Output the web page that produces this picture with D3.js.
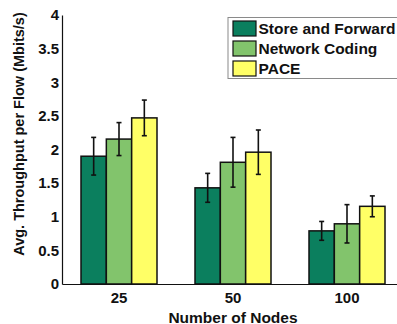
<!DOCTYPE html>
<html>
<head>
<meta charset="utf-8">
<script src="https://cdn.jsdelivr.net/npm/d3@7"></script>
<style>
  html, body { margin: 0; padding: 0; background: #fff; }
  svg { display: block; font-family: "Liberation Sans", Arial, sans-serif; font-weight: bold; }
</style>
</head>
<body>
<svg id="chart" width="397" height="324"></svg>
<script>
// Average per-flow throughput by network size, with standard deviation bars
const nodeCounts = ["25", "50", "100"];
const schemes = ["Store and Forward", "Network Coding", "PACE"];
const storeForwardMean = [1.90, 1.43, 0.79];
const storeForwardErr  = [0.28, 0.215, 0.14];
const networkCodingMean = [2.155, 1.81, 0.895];
const networkCodingErr  = [0.245, 0.37, 0.285];
const paceMean = [2.47, 1.96, 1.155];
const paceErr  = [0.265, 0.33, 0.155];
const yTicks = [0, 0.5, 1, 1.5, 2, 2.5, 3, 3.5, 4];
const yTickLabels = ["0", "0.5", "1", "1.5", "2", "2.5", "3", "3.5", "4"];
const colors = ["#0b7f5e", "#82c46c", "#ffff66"];

(function () {
  const means = [storeForwardMean, networkCodingMean, paceMean];
  const errs = [storeForwardErr, networkCodingErr, paceErr];

  const rows = [];
  nodeCounts.forEach((n, gi) => {
    schemes.forEach((s, si) => {
      rows.push({ group: n, scheme: s, si, value: means[si][gi], err: errs[si][gi] });
    });
  });

  const svg = d3.select("#chart");
  const plotLeft = 62, plotRight = 404, plotTop = 15, plotBottom = 284;
  const font = "Liberation Sans, Arial, sans-serif";

  const x = d3.scaleBand().domain(nodeCounts).range([plotLeft, plotRight])
    .paddingInner(1 / 3).paddingOuter(1 / 6);
  const xs = d3.scaleBand().domain(schemes).range([0, x.bandwidth()]).padding(0);
  const y = d3.scaleLinear().domain([0, 4]).range([plotBottom, plotTop]);

  // bars
  svg.append("g").selectAll("rect").data(rows).join("rect")
    .attr("x", d => x(d.group) + xs(d.scheme))
    .attr("y", d => y(d.value))
    .attr("width", xs.bandwidth())
    .attr("height", d => y(0) - y(d.value))
    .attr("fill", d => colors[d.si])
    .attr("stroke", "#111")
    .attr("stroke-width", 1.5);

  // error bars
  const eb = svg.append("g").attr("stroke", "#111").attr("stroke-width", 1.6);
  rows.forEach(d => {
    const cx = x(d.group) + xs(d.scheme) + xs.bandwidth() / 2;
    const y1 = y(d.value + d.err), y0 = y(d.value - d.err);
    eb.append("line").attr("x1", cx).attr("x2", cx).attr("y1", y1).attr("y2", y0);
    eb.append("line").attr("x1", cx - 2.5).attr("x2", cx + 2.5).attr("y1", y1).attr("y2", y1);
    eb.append("line").attr("x1", cx - 2.5).attr("x2", cx + 2.5).attr("y1", y0).attr("y2", y0);
  });

  // axes
  const yAxis = d3.axisLeft(y).tickValues(yTicks)
    .tickFormat((d, i) => yTickLabels[i]).tickSize(0).tickPadding(3);
  const gy = svg.append("g").attr("transform", `translate(${plotLeft},0)`).call(yAxis);
  gy.select(".domain").attr("stroke", "#111").attr("stroke-width", 1.2);
  gy.selectAll("text").attr("font-size", 15).attr("font-weight", "bold")
    .attr("font-family", font).attr("fill", "#111");

  const xAxis = d3.axisBottom(x).tickSize(0).tickPadding(8);
  const gx = svg.append("g").attr("transform", `translate(0,${plotBottom})`).call(xAxis);
  gx.select(".domain").attr("stroke", "#111").attr("stroke-width", 1.2);
  gx.selectAll("text").attr("font-size", 15).attr("font-weight", "bold")
    .attr("font-family", font).attr("fill", "#111");

  // axis titles
  svg.append("text")
    .attr("transform", `translate(24,134) rotate(-90)`)
    .attr("text-anchor", "middle").attr("font-size", 14.5).attr("fill", "#111")
    .text("Avg. Throughput per Flow (Mbits/s)");
  svg.append("text")
    .attr("x", 233).attr("y", 322.5)
    .attr("text-anchor", "middle").attr("font-size", 15.5).attr("fill", "#111")
    .text("Number of Nodes");

  // legend
  const lg = svg.append("g");
  lg.append("rect").attr("x", 228).attr("y", 17.5).attr("width", 180).attr("height", 61)
    .attr("fill", "#fff").attr("stroke", "#8a8a8a").attr("stroke-width", 1);
  schemes.forEach((s, i) => {
    const yy = 21 + i * 20;
    lg.append("rect").attr("x", 233).attr("y", yy).attr("width", 23).attr("height", 15)
      .attr("fill", colors[i]).attr("stroke", "#111").attr("stroke-width", 1.2);
    lg.append("text").attr("x", 258.5).attr("y", yy + 13)
      .attr("font-size", 15.5).attr("fill", "#111").text(s);
  });
})();
</script>
</body>
</html>
